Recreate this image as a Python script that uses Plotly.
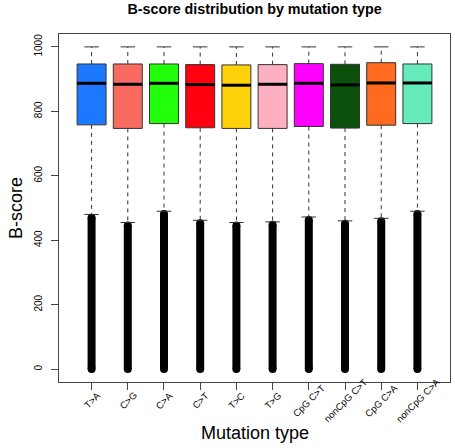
import plotly.graph_objects as go

categories = ["T>A", "C>G", "C>A", "C>T", "T>C", "T>G", "CpG C>T", "nonCpG C>T", "CpG C>A", "nonCpG C>A"]
q1 = [758, 747, 762, 749, 747, 747, 753, 748, 757, 762]
median = [887, 884, 887, 883, 881, 884, 887, 882, 888, 888]
q3 = [947, 947, 947, 945, 944, 945, 948, 946, 951, 947]
upper_whisker = [1000, 1000, 1000, 1000, 1000, 1000, 1000, 1000, 1000, 1000]
lower_whisker = [480, 455, 490, 462, 455, 457, 472, 460, 468, 490]
outlier_min = [0, 0, 0, 0, 0, 0, 0, 0, 0, 0]
outlier_max = [470, 446, 481, 453, 446, 448, 463, 451, 459, 481]
colors = ["#1C78FF", "#F96A60", "#22FF0A", "#FF0010", "#FFD20A",
          "#FFB0C0", "#FF00FF", "#0A500A", "#FF6A1E", "#66EBBB"]

BOXW = 0.8
CAPW = 0.4
EDGE = "#333333"

fig = go.Figure()
for i, cat in enumerate(categories):
    x = i + 1
    # outliers (dense column)
    fig.add_trace(go.Scatter(
        x=[x, x], y=[outlier_min[i], outlier_max[i]], mode="lines+markers",
        line=dict(color="black", width=8), marker=dict(color="black", size=8),
        hoverinfo="skip", showlegend=False))
    # whiskers
    for a, b in ((q1[i], lower_whisker[i]), (q3[i], upper_whisker[i])):
        fig.add_trace(go.Scatter(
            x=[x, x], y=[a, b], mode="lines",
            line=dict(color=EDGE, width=1, dash="4px,4px"),
            hoverinfo="skip", showlegend=False))
        fig.add_trace(go.Scatter(
            x=[x - CAPW / 2, x + CAPW / 2], y=[b, b], mode="lines",
            line=dict(color=EDGE, width=1),
            hoverinfo="skip", showlegend=False))
    # box
    fig.add_trace(go.Box(
        x=[x], q1=[q1[i]], median=[median[i]], q3=[q3[i]],
        lowerfence=[q1[i]], upperfence=[q3[i]], width=BOXW,
        fillcolor=colors[i], line=dict(color=EDGE, width=1),
        whiskerwidth=0, boxpoints=False, name=cat, showlegend=False))
    # median
    fig.add_trace(go.Scatter(
        x=[x - BOXW / 2, x + BOXW / 2], y=[median[i], median[i]], mode="lines",
        line=dict(color="black", width=3),
        hoverinfo="skip", showlegend=False))

# rotated category labels, centred under each tick (as R's text(srt=45))
label_annotations = [
    dict(text=cat, x=i + 1, xref="x", y=-(400 - 382) / 348, yref="paper",
         xanchor="center", yanchor="middle", textangle=-45,
         showarrow=False, font=dict(size=9.5))
    for i, cat in enumerate(categories)
]

fig.update_layout(
    width=455, height=448,
    margin=dict(l=59, r=5, t=34, b=66, autoexpand=False),
    paper_bgcolor="white", plot_bgcolor="white",
    font=dict(family="Liberation Sans, Arial, sans-serif", color="black"),
    title=dict(text="<b>B-score distribution by mutation type</b>",
               x=254.5 / 455, xanchor="center", y=1 - 9 / 448, yanchor="middle",
               font=dict(size=14.3)),
    xaxis=dict(range=[0.1, 10.9], tickmode="array",
               tickvals=list(range(1, 11)), showticklabels=False,
               ticks="outside", ticklen=7, tickcolor="#444",
               showgrid=False, zeroline=False, automargin=False,
               showline=True, linecolor="#444", linewidth=1, mirror=True),
    yaxis=dict(range=[-40, 1040], tickvals=[0, 200, 400, 600, 800, 1000],
               tickangle=-90, tickfont=dict(size=10), ticklabelstandoff=5,
               ticks="outside", ticklen=7, tickcolor="#444",
               showgrid=False, zeroline=False, automargin=False,
               showline=True, linecolor="#444", linewidth=1, mirror=True),
    annotations=label_annotations + [
        dict(text="Mutation type", xref="paper", yref="paper",
             x=0.5, y=-(433 - 382) / 348, xanchor="center", yanchor="middle",
             showarrow=False, font=dict(size=18)),
        dict(text="B-score", xref="paper", yref="paper",
             x=-(59 - 16) / 391, y=0.5, xanchor="center", yanchor="middle",
             textangle=-90, showarrow=False, font=dict(size=18)),
    ],
)

fig.write_html(
    "out.html",
    config={"displayModeBar": False},
    post_script="document.body.style.margin='0';document.body.style.overflow='hidden';",
)
